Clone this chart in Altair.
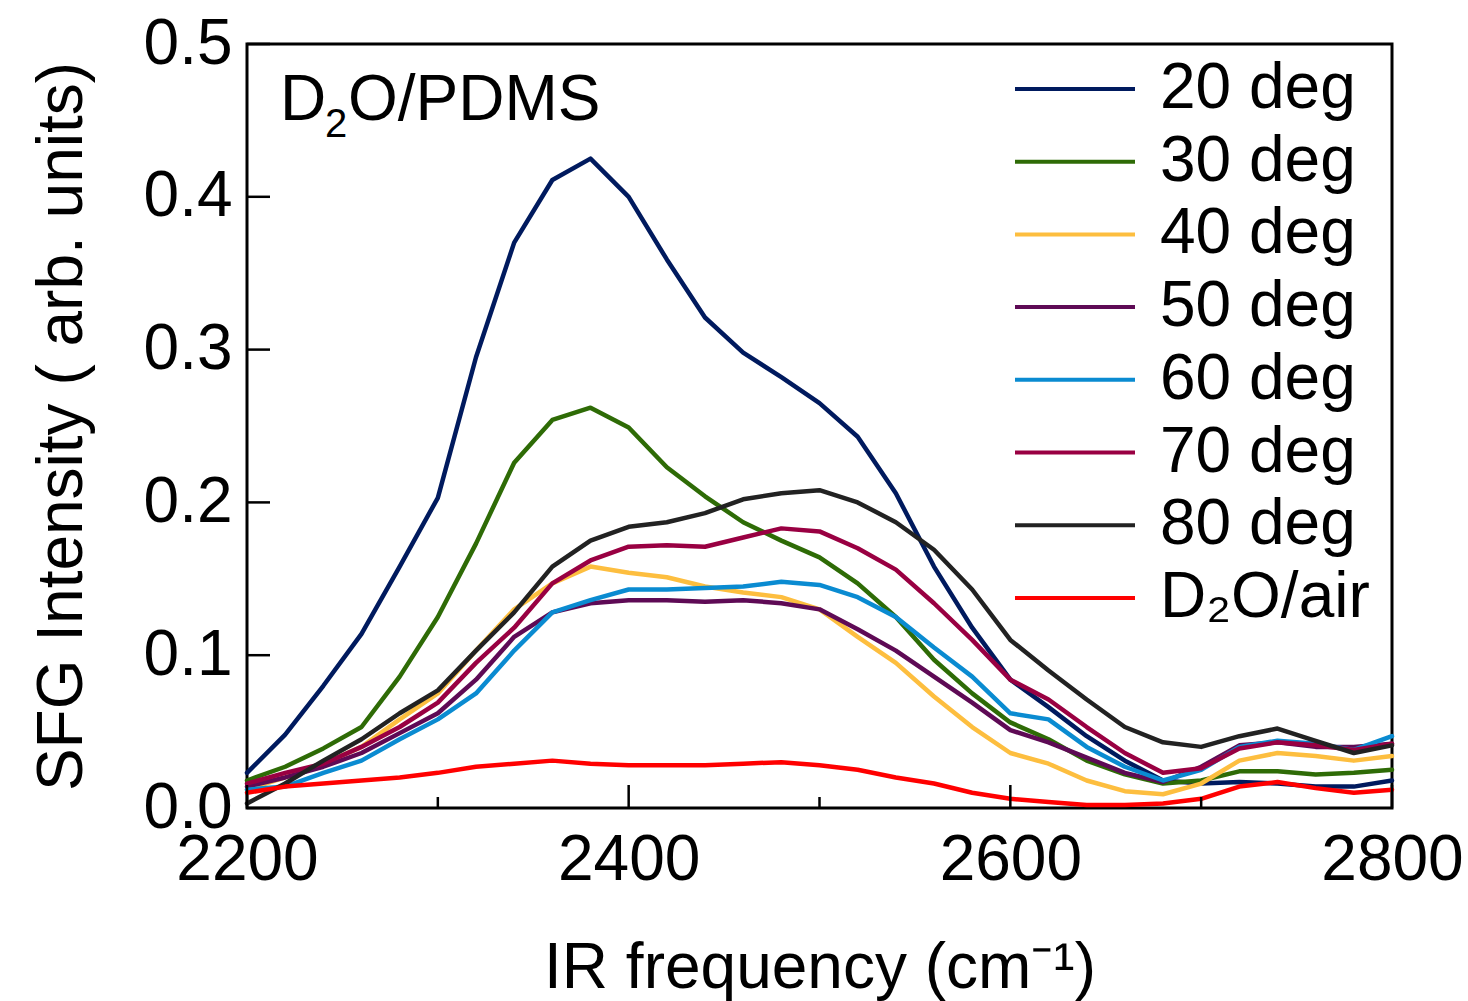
import altair as alt
import pandas as pd

# ---- data ----
freq = [2200, 2220, 2240, 2260, 2280, 2300, 2320, 2340, 2360, 2380, 2400,
        2420, 2440, 2460, 2480, 2500, 2520, 2540, 2560, 2580, 2600,
        2620, 2640, 2660, 2680, 2700, 2720, 2740, 2760, 2780, 2800]

deg20 = [0.023, 0.048, 0.080, 0.114, 0.158, 0.203, 0.295, 0.370, 0.411, 0.425, 0.400,
         0.359, 0.321, 0.298, 0.282, 0.265, 0.243, 0.206, 0.158, 0.118, 0.084,
         0.066, 0.047, 0.031, 0.018, 0.016, 0.017, 0.016, 0.014, 0.014, 0.018]
deg30 = [0.018, 0.027, 0.039, 0.053, 0.086, 0.125, 0.173, 0.226, 0.254, 0.262, 0.249,
         0.223, 0.204, 0.187, 0.175, 0.164, 0.147, 0.125, 0.097, 0.075, 0.056,
         0.045, 0.031, 0.022, 0.016, 0.018, 0.024, 0.024, 0.022, 0.023, 0.025]
deg40 = [0.012, 0.020, 0.029, 0.040, 0.058, 0.075, 0.103, 0.130, 0.147, 0.158, 0.154,
         0.151, 0.145, 0.141, 0.138, 0.130, 0.112, 0.095, 0.073, 0.053, 0.036,
         0.029, 0.018, 0.011, 0.009, 0.016, 0.031, 0.036, 0.034, 0.031, 0.034]
deg50 = [0.014, 0.020, 0.027, 0.036, 0.049, 0.062, 0.084, 0.112, 0.128, 0.134, 0.136,
         0.136, 0.135, 0.136, 0.134, 0.130, 0.117, 0.103, 0.086, 0.069, 0.051,
         0.043, 0.033, 0.023, 0.017, 0.027, 0.041, 0.043, 0.040, 0.040, 0.042]
deg60 = [0.012, 0.014, 0.023, 0.031, 0.045, 0.058, 0.075, 0.103, 0.128, 0.136, 0.143,
         0.143, 0.144, 0.145, 0.148, 0.146, 0.138, 0.125, 0.105, 0.086, 0.062,
         0.058, 0.040, 0.027, 0.018, 0.025, 0.040, 0.044, 0.042, 0.038, 0.047]
deg70 = [0.016, 0.023, 0.029, 0.040, 0.053, 0.069, 0.095, 0.118, 0.147, 0.162, 0.171,
         0.172, 0.171, 0.177, 0.183, 0.181, 0.170, 0.156, 0.134, 0.110, 0.084,
         0.071, 0.053, 0.036, 0.023, 0.026, 0.039, 0.043, 0.041, 0.038, 0.042]
deg80 = [0.003, 0.016, 0.031, 0.045, 0.062, 0.077, 0.103, 0.128, 0.158, 0.175, 0.184,
         0.187, 0.193, 0.202, 0.206, 0.208, 0.200, 0.187, 0.169, 0.143, 0.110,
         0.090, 0.071, 0.053, 0.043, 0.040, 0.047, 0.052, 0.044, 0.036, 0.041]
d2o_air = [0.010, 0.014, 0.016, 0.018, 0.020, 0.023, 0.027, 0.029, 0.031, 0.029, 0.028,
           0.028, 0.028, 0.029, 0.030, 0.028, 0.025, 0.020, 0.016, 0.010, 0.006,
           0.004, 0.002, 0.002, 0.003, 0.006, 0.014, 0.017, 0.013, 0.010, 0.012]

series_names = ["20 deg", "30 deg", "40 deg", "50 deg", "60 deg", "70 deg", "80 deg", "D\u2082O/air"]
series_values = [deg20, deg30, deg40, deg50, deg60, deg70, deg80, d2o_air]
series_colors = ["#001A5E", "#2E6B06", "#FDBE3F", "#5E0A55", "#0A8BD1", "#990042", "#222222", "#FF0000"]

x_major_ticks = [2200, 2400, 2600, 2800]
x_minor_ticks = [2300, 2500, 2700]
y_major_ticks = [0.0, 0.1, 0.2, 0.3, 0.4, 0.5]

# panel label "D2O/PDMS" in three pieces (subscript 2)
label_main = ["D", "O/PDMS"]
label_sub = ["2"]

x_title = "IR frequency (cm\u207b\u00b9)"
y_title = "SFG Intensity ( arb. units)"

FONT = "Liberation Sans"
W, H = 1145, 764

rows = []
for name, vals in zip(series_names, series_values):
    for f, v in zip(freq, vals):
        rows.append({"freq": f, "intensity": v, "series": name})
df = pd.DataFrame(rows)

xscale = alt.Scale(domain=[2200, 2800], nice=False, zero=False)
yscale = alt.Scale(domain=[0, 0.5], nice=False)

lines = alt.Chart(df).mark_line(strokeWidth=4.5, strokeJoin="round", strokeCap="round").encode(
    x=alt.X("freq:Q", scale=xscale,
            axis=alt.Axis(values=x_major_ticks, format="d", title=x_title,
                          ticks=False, tickSize=0, domain=False, grid=False,
                          labelFontSize=64, labelFont=FONT, labelColor="black",
                          labelPadding=20, labelFlush=False, labelOverlap=False,
                          titleFontSize=64, titleFont=FONT, titleFontWeight="normal",
                          titleColor="black", titleX=W / 2, titleY=179,
                          titleBaseline="alphabetic", titleAlign="center")),
    y=alt.Y("intensity:Q", scale=yscale,
            axis=alt.Axis(values=y_major_ticks, format=".1f", title=y_title,
                          ticks=False, tickSize=0, domain=False, grid=False,
                          labelFontSize=64, labelFont=FONT, labelColor="black",
                          labelPadding=15, labelFlush=False, labelOverlap=False,
                          titleFontSize=64, titleFont=FONT, titleFontWeight="normal",
                          titleColor="black", titleAngle=270, titleX=-185, titleY=H / 2,
                          titleBaseline="middle", titleAlign="center")),
    color=alt.Color("series:N",
                    scale=alt.Scale(domain=series_names, range=series_colors),
                    sort=series_names,
                    legend=alt.Legend(title=None, orient="none", legendX=766, legendY=10,
                                      symbolType="stroke", symbolSize=14400,
                                      symbolStrokeWidth=4, labelFontSize=64,
                                      labelFont=FONT, labelColor="black",
                                      labelOffset=23, labelLimit=500,
                                      clipHeight=70, rowPadding=2.7, padding=0)),
    order=alt.Order("series:N"),
)

xmaj = alt.Chart(pd.DataFrame({"t": x_major_ticks})).mark_rule(color="black", strokeWidth=2.5).encode(
    x=alt.X("t:Q", scale=xscale), y=alt.value(H), y2=alt.value(H - 23))
xmin = alt.Chart(pd.DataFrame({"t": x_minor_ticks})).mark_rule(color="black", strokeWidth=2.5).encode(
    x=alt.X("t:Q", scale=xscale), y=alt.value(H), y2=alt.value(H - 11))
ymaj = alt.Chart(pd.DataFrame({"t": y_major_ticks})).mark_rule(color="black", strokeWidth=2.5).encode(
    y=alt.Y("t:Q", scale=yscale), x=alt.value(0), x2=alt.value(23))

lab_d = alt.Chart(pd.DataFrame({"label": [label_main[0]]})).mark_text(
    font=FONT, fontSize=64, align="left", baseline="alphabetic", color="black"
).encode(x=alt.value(33), y=alt.value(76), text="label:N")
lab_2 = alt.Chart(pd.DataFrame({"label": label_sub})).mark_text(
    font=FONT, fontSize=40, align="left", baseline="alphabetic", color="black"
).encode(x=alt.value(78), y=alt.value(93), text="label:N")
lab_rest = alt.Chart(pd.DataFrame({"label": [label_main[1]]})).mark_text(
    font=FONT, fontSize=64, align="left", baseline="alphabetic", color="black"
).encode(x=alt.value(101), y=alt.value(76), text="label:N")

chart = alt.layer(lines, xmaj, xmin, ymaj, lab_d, lab_2, lab_rest).properties(
    width=W, height=H,
    autosize=alt.AutoSizeParams(type="none"),
    padding={"left": 247, "top": 44, "right": 76, "bottom": 193},
    background="white",
).configure_view(stroke="black", strokeWidth=3)

chart.save("out.html", embed_options={"renderer": "svg", "actions": False})
